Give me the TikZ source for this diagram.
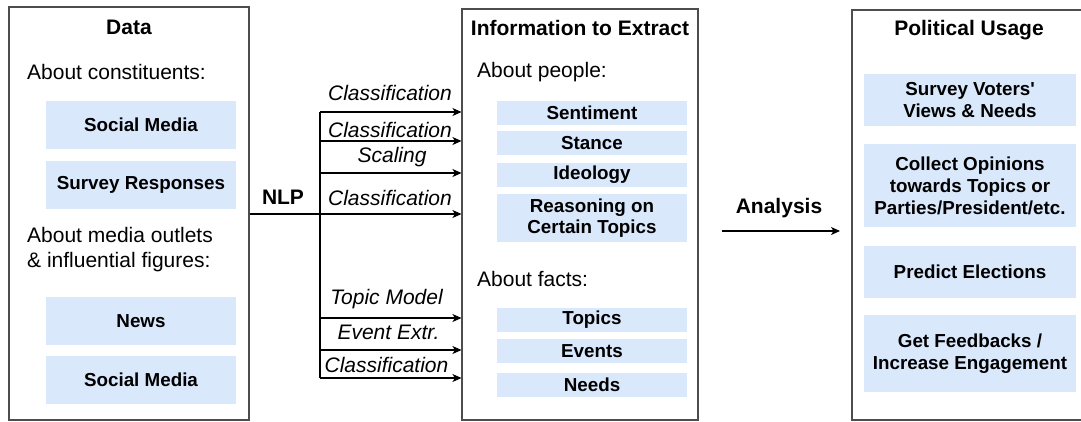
\documentclass[tikz,border=0pt]{standalone}
\usepackage{fontspec}
\setmainfont{Liberation Sans}
\usetikzlibrary{arrows.meta}
\definecolor{bluefill}{HTML}{DAE8FC}
\definecolor{frame}{HTML}{4D4D4D}
\begin{document}
\begin{tikzpicture}[x=1pt,y=-1pt,
  panel/.style={draw=frame,line width=1.1pt,inner sep=0pt},
  title/.style={font=\fontsize{21}{24}\selectfont\bfseries,inner sep=0pt},
  plain/.style={font=\fontsize{21}{25}\selectfont,inner sep=0pt,align=left},
  bluebox/.style={fill=bluefill,inner sep=0pt,align=center,
    font=\fontsize{18.8}{21.5}\selectfont\bfseries},
  method/.style={font=\fontsize{21}{24}\selectfont\itshape,inner sep=0pt},
  conn/.style={draw=black,line width=1.1pt,-{Stealth[length=9pt,width=8pt,inset=2.5pt]}}
]
\clip (0,0) rectangle (1081,421);
\fill[white] (0,0) rectangle (1081,421);

% ---------- Data panel ----------
\node[panel,minimum width=240pt,minimum height=413pt] (data) at (129,213.5) {};
\node[title] (datat) at (129,27) {Data};
\node[plain,anchor=west] (aboutc) at (27,72) {About constituents:};
\node[bluebox,minimum width=190pt,minimum height=48pt] (sm1) at (141,125) {Social Media};
\node[bluebox,minimum width=190pt,minimum height=48pt] (sr) at (141,185) {Survey Responses};
\node[plain,anchor=west] (aboutm) at (27,249.5) {About media outlets\\\& influential figures:};
\node[bluebox,minimum width=190pt,minimum height=48pt] (news) at (141,321) {News};
\node[bluebox,minimum width=190pt,minimum height=48pt] (sm2) at (141,380) {Social Media};

% ---------- Information panel ----------
\node[panel,minimum width=236pt,minimum height=411pt] (info) at (580,214.5) {};
\node[title] (infot) at (580,28) {Information to Extract};
\node[plain,anchor=west] (aboutp) at (477,72) {About people:};
\node[bluebox,minimum width=190pt,minimum height=24pt] (sent) at (592,113) {Sentiment};
\node[bluebox,minimum width=190pt,minimum height=24pt] (stance) at (592,143) {Stance};
\node[bluebox,minimum width=190pt,minimum height=24pt] (ideo) at (592,175) {Ideology};
\node[bluebox,minimum width=190pt,minimum height=48pt,font=\fontsize{18.8}{21}\selectfont\bfseries] (reas) at (592,218) {Reasoning on\\Certain Topics};
\node[plain,anchor=west] (aboutf) at (477,279) {About facts:};
\node[bluebox,minimum width=190pt,minimum height=24pt] (topics) at (592,320) {Topics};
\node[bluebox,minimum width=190pt,minimum height=24pt] (events) at (592,351) {Events};
\node[bluebox,minimum width=190pt,minimum height=24pt] (needs) at (592,385) {Needs};

% ---------- Political usage panel ----------
\node[panel,minimum width=234pt,minimum height=410pt] (usage) at (969,215) {};
\node[title] (usaget) at (969,30) {Political Usage};
\node[bluebox,minimum width=212pt,minimum height=52pt,font=\fontsize{18.8}{22.5}\selectfont\bfseries] (u1) at (970,100) {Survey Voters\textquotesingle\\Views \& Needs};
\node[bluebox,minimum width=212pt,minimum height=83pt,font=\fontsize{18.8}{22}\selectfont\bfseries] (u2) at (970,185.5) {Collect Opinions\\towards Topics or\\Parties/President/etc.};
\node[bluebox,minimum width=212pt,minimum height=52pt] (u3) at (970,272) {Predict Elections};
\node[bluebox,minimum width=212pt,minimum height=77pt,font=\fontsize{18.8}{22}\selectfont\bfseries] (u4) at (970,353.5) {Get Feedbacks /\\Increase Engagement};

% ---------- NLP connectors ----------
\coordinate (J) at (320,214);
\coordinate (vtop) at (320,112);
\coordinate (vbot) at (320,378);
\draw[line width=2.6pt] (data.east |- J) -- (J);
\node[title] (nlp) at (283,197) {NLP};
\draw[line width=1.1pt] (vtop) -- (vbot);
\foreach \n/\y in {s1/112,s2/141,s3/173,s4/214,s5/318,s6/350,s7/378}{
  \coordinate (\n) at (320,\y);
  \draw[conn] (\n) -- (\n -| info.west);
}
\node[method] (m1) at (390,93) {Classification};
\node[method] (m2) at (390,130) {Classification};
\node[method] (m3) at (392,157) {Scaling};
\node[method] (m4) at (390,198) {Classification};
\node[method] (m5) at (386.5,299) {Topic Model};
\node[method] (m6) at (388.5,332) {Event Extr.};
\node[method] (m7) at (386.5,365) {Classification};

% ---------- Analysis ----------
\coordinate (a0) at (722,231);
\coordinate (a1) at (840,231);
\draw[conn] (a0) -- (a1);
\node[title] (anal) at (779,208) {Analysis};
\end{tikzpicture}
\end{document}
